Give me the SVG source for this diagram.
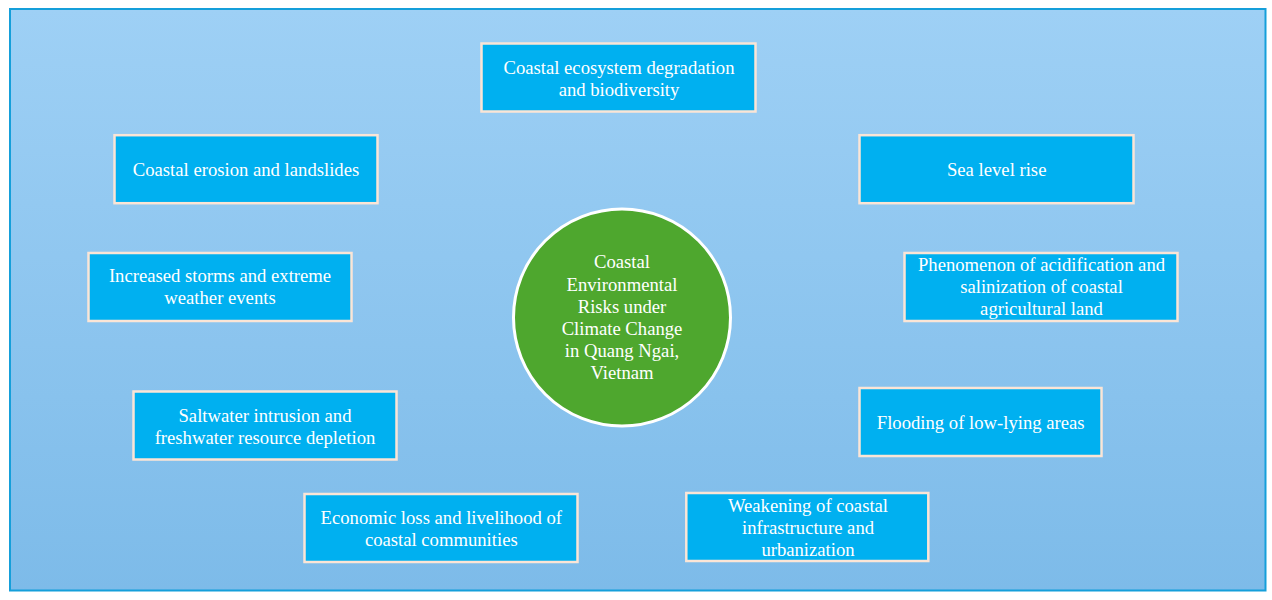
<svg xmlns="http://www.w3.org/2000/svg" width="1272" height="600" viewBox="0 0 1272 600">
  <defs>
    <linearGradient id="bg" x1="0" y1="0" x2="0" y2="1">
      <stop offset="0" stop-color="#9ed0f5"/>
      <stop offset="1" stop-color="#7dbbe9"/>
    </linearGradient>
  </defs>
  <style>
    .box { fill: #00b0f0; stroke: #fbe5d6; stroke-width: 2.5; }
    .hub { fill: #4ea72e; stroke: #ffffff; stroke-width: 3; }
    text { font-family: "Liberation Serif", "Times New Roman", serif; font-size: 18.67px; fill: #ffffff; text-anchor: middle; }
  </style>
  <rect x="10" y="9" width="1255.5" height="581.5" fill="url(#bg)" stroke="#159fda" stroke-width="2"/>
  <g id="connectors"></g>
  <g id="hub">
    <circle class="hub" cx="622" cy="317.5" r="108.5"/>
    <text x="622" y="268.3">Coastal</text>
    <text x="622" y="290.5">Environmental</text>
    <text x="622" y="312.7">Risks under</text>
    <text x="622" y="334.9">Climate Change</text>
    <text x="622" y="357.1">in Quang Ngai,</text>
    <text x="622" y="379.3">Vietnam</text>
  </g>
  <g id="n1">
    <rect class="box" x="481.5" y="43.5" width="274" height="68"/>
    <text x="619" y="73.5">Coastal ecosystem degradation</text>
    <text x="619" y="95.5">and biodiversity</text>
  </g>
  <g id="n2">
    <rect class="box" x="114.5" y="135.2" width="263" height="68"/>
    <text x="246" y="175.7">Coastal erosion and landslides</text>
  </g>
  <g id="n3">
    <rect class="box" x="859.5" y="135.2" width="274" height="68"/>
    <text x="996.7" y="175.7">Sea level rise</text>
  </g>
  <g id="n4">
    <rect class="box" x="88.5" y="253" width="263" height="68"/>
    <text x="220" y="281.7">Increased storms and extreme</text>
    <text x="220" y="304">weather events</text>
  </g>
  <g id="n5">
    <rect class="box" x="904.5" y="253" width="273" height="68"/>
    <text x="1041.5" y="270.7">Phenomenon of acidification and</text>
    <text x="1041.5" y="293.2">salinization of coastal</text>
    <text x="1041.5" y="315.3">agricultural land</text>
  </g>
  <g id="n6">
    <rect class="box" x="133.5" y="391.5" width="263" height="68"/>
    <text x="265" y="421.7">Saltwater intrusion and</text>
    <text x="265" y="443.5">freshwater resource depletion</text>
  </g>
  <g id="n7">
    <rect class="box" x="859.5" y="388" width="242" height="68"/>
    <text x="980.7" y="429">Flooding of low-lying areas</text>
  </g>
  <g id="n8">
    <rect class="box" x="304.5" y="494" width="273" height="68"/>
    <text x="441.3" y="523.5">Economic loss and livelihood of</text>
    <text x="441.3" y="545.7">coastal communities</text>
  </g>
  <g id="n9">
    <rect class="box" x="686.3" y="493" width="242" height="68"/>
    <text x="808" y="511.7">Weakening of coastal</text>
    <text x="808" y="533.5">infrastructure and</text>
    <text x="808" y="555.7">urbanization</text>
  </g>
</svg>
